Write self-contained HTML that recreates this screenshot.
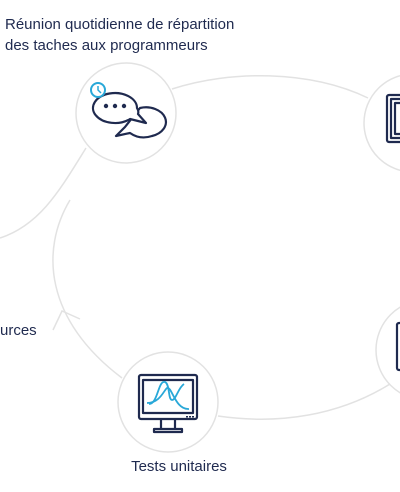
<!DOCTYPE html>
<html><head><meta charset="utf-8"><style>
html,body{margin:0;padding:0;background:#fff;width:400px;height:492px;overflow:hidden}
svg{display:block}
text{font-family:"Liberation Sans",sans-serif;fill:#1f2a4f}
</style></head><body>
<svg width="400" height="492" viewBox="0 0 400 492">
<g fill="none" stroke="#e2e2e2" stroke-width="1.5">
<path d="M172 89 C230 70 310 70 368 98"/>
<path d="M86 148 C60 190 40 225 0 238"/>
<path d="M70 200 C40 250 45 320 122 378"/>
<path d="M53 330 L62 311 L80 319"/>
<path d="M218 416 C280 425 340 415 390 384"/>
<circle cx="126" cy="113" r="50"/>
<circle cx="413" cy="123" r="49"/>
<circle cx="426" cy="350" r="50"/>
<circle cx="168" cy="402" r="50"/>
</g>
<g fill="#fff" stroke="#1f2a4f" stroke-width="2.2" stroke-linejoin="round">
<path d="M125 127 L116 136 L130 133 Q140 140 152 136 A19 14 0 0 0 140 108 Z"/>
<path d="M137 108 A22 15 0 1 0 130 119 L146 123 L138 114 Q139 111 137 108 Z"/>
</g>
<g fill="none" stroke="#1f2a4f" stroke-width="2.2" stroke-linejoin="round">
<rect x="387" y="95" width="20" height="47" rx="2"/>
<rect x="391" y="99" width="16" height="39"/>
<rect x="395" y="103" width="12" height="31"/>
<rect x="397" y="323" width="10" height="47" rx="2"/>
<rect x="139" y="375" width="58" height="44" rx="2"/>
<rect x="143" y="380" width="50" height="33"/>
<path d="M161 419 v10 h14 v-10 M154 432 h28 v-3 h-28 z"/>
</g>
<g fill="#1f2a4f"><circle cx="106" cy="106" r="2.2"/><circle cx="115" cy="106" r="2.2"/><circle cx="124" cy="106" r="2.2"/>
<rect x="186" y="416" width="2" height="1.5"/><rect x="189" y="416" width="2" height="1.5"/><rect x="192" y="416" width="2" height="1.5"/></g>
<g fill="#fff" stroke="#29a8d8" stroke-width="2"><circle cx="98" cy="90" r="7"/></g>
<path d="M98 86 v4 l3 3" fill="none" stroke="#29a8d8" stroke-width="1.5"/>
<g fill="none" stroke="#29a8d8" stroke-width="1.8">
<path d="M149 404 C158 404 158 380 165 382 C170 384 168 400 172 400 C176 400 178 388 184 384"/>
<path d="M147 403 C160 403 164 390 167 388 C172 386 175 410 189 409"/>
</g>
<text x="5" y="29" font-size="15">Réunion quotidienne de répartition</text>
<text x="5" y="50" font-size="15">des taches aux programmeurs</text>
<text x="0" y="335" font-size="15">urces</text>
<text x="179" y="471" font-size="15" text-anchor="middle">Tests unitaires</text>
</svg>
</body></html>
